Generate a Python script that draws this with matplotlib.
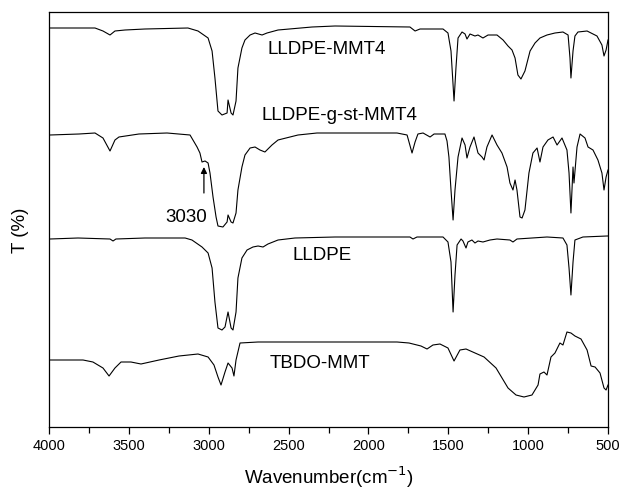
import numpy as np
import matplotlib.pyplot as plt
from matplotlib.ticker import MultipleLocator, NullLocator

plt.rcParams['font.family'] = ['Liberation Sans', 'DejaVu Sans']

# FTIR spectra, wavenumber (cm-1) vs transmittance (arbitrary offset units)
wn_mmt4 = [3994, 3712, 3662, 3618, 3587, 3524, 3399, 3130, 3067, 3004, 2979, 2961, 2942, 2917,
           2885, 2879, 2860, 2848, 2829, 2817, 2792, 2773, 2741, 2710, 2666, 2635, 2566, 2353,
           2209, 1740, 1708, 1677, 1533, 1502, 1483, 1470, 1464, 1452, 1439, 1414, 1395, 1383,
           1364, 1333, 1314, 1283, 1251, 1195, 1157, 1126, 1101, 1082, 1064, 1045, 1020, 988,
           957, 926, 882, 832, 782, 750, 738, 732, 719, 707, 688, 631, 569, 538, 525, 512, 500]
t_mmt4 = [399, 399, 396, 392, 396, 397, 398, 399, 396, 389, 376, 349, 316, 312,
          314, 327, 314, 312, 326, 359, 379, 387, 392, 394, 392, 394, 397, 400,
          401, 400, 396, 398, 398, 394, 376, 342, 326, 359, 389, 395, 393, 388,
          393, 391, 392, 389, 392, 392, 387, 381, 377, 369, 352, 348, 356, 376,
          384, 389, 392, 394, 395, 392, 369, 349, 376, 391, 395, 396, 391, 382, 371, 377, 387]

wn_gst = [3994, 3812, 3712, 3662, 3618, 3587, 3562, 3437, 3261, 3117, 3073, 3055, 3042, 3023,
          3004, 2992, 2973, 2954, 2942, 2911, 2885, 2879, 2860, 2848, 2829, 2817, 2792, 2773,
          2741, 2710, 2679, 2648, 2604, 2566, 2441, 2322, 2072, 1821, 1758, 1727, 1708, 1690,
          1658, 1614, 1589, 1521, 1508, 1496, 1483, 1470, 1458, 1439, 1414, 1395, 1383, 1364,
          1339, 1314, 1289, 1276, 1258, 1226, 1195, 1164, 1132, 1114, 1095, 1082, 1070, 1051,
          1038, 1020, 995, 970, 944, 926, 907, 876, 844, 819, 788, 757, 744, 732, 719, 713,
          694, 675, 644, 625, 594, 563, 538, 525, 512, 500]
t_gst = [292, 293, 294, 289, 276, 287, 290, 293, 294, 292, 280, 274, 265, 266,
         264, 254, 230, 210, 201, 200, 205, 212, 205, 204, 214, 237, 260, 272,
         279, 280, 277, 275, 282, 287, 292, 294, 294, 294, 292, 274, 285, 293,
         294, 290, 293, 293, 286, 270, 237, 207, 237, 270, 289, 282, 269, 280,
         290, 274, 270, 267, 280, 292, 282, 274, 260, 244, 237, 247, 237, 210,
         209, 217, 254, 274, 279, 265, 280, 287, 290, 282, 289, 277, 254, 214, 260, 244,
         280, 293, 289, 280, 277, 267, 254, 237, 250, 257]

wn_lldpe = [3994, 3818, 3618, 3599, 3581, 3399, 3148, 3105, 3042, 3004, 2979, 2961, 2942, 2917,
            2898, 2879, 2860, 2848, 2829, 2817, 2792, 2760, 2723, 2691, 2660, 2629, 2566, 2460,
            2209, 1740, 1721, 1696, 1533, 1502, 1483, 1470, 1458, 1445, 1420, 1408, 1389, 1377,
            1352, 1333, 1314, 1283, 1239, 1195, 1114, 1095, 1070, 882, 782, 757, 744, 732, 719,
            707, 657, 506, 500]
t_lldpe = [188, 189, 188, 186, 188, 189, 189, 187, 180, 174, 159, 125, 99, 97,
           100, 115, 99, 97, 115, 149, 169, 177, 180, 181, 180, 183, 187, 189,
           190, 190, 188, 190, 190, 185, 165, 115, 152, 182, 188, 186, 179, 185,
           187, 184, 186, 185, 187, 188, 187, 185, 188, 190, 189, 182, 159, 132, 165,
           187, 190, 191, 191]

wn_tbdo = [3994, 3787, 3725, 3662, 3624, 3587, 3549, 3487, 3424, 3311, 3186, 3067, 3004, 2967,
           2942, 2923, 2898, 2879, 2854, 2842, 2829, 2804, 2691, 2322, 1821, 1746, 1671, 1633,
           1596, 1552, 1502, 1464, 1427, 1389, 1276, 1201, 1126, 1076, 1026, 976, 938, 926,
           901, 882, 857, 832, 801, 782, 757, 732, 707, 669, 631, 606, 581, 550, 525, 512, 500]
t_tbdo = [67, 67, 65, 59, 51, 59, 65, 65, 63, 67, 71, 73, 70, 62,
          50, 42, 55, 64, 59, 51, 67, 84, 85, 85, 85, 84, 81, 78,
          82, 83, 79, 66, 77, 78, 70, 59, 39, 32, 30, 32, 42, 53,
          55, 52, 70, 74, 84, 82, 95, 94, 91, 88, 77, 61, 60, 54, 39, 37, 42]

fig = plt.figure(figsize=(6.2, 4.91), dpi=100)
ax = fig.add_axes([49 / 620, 64 / 491, 559 / 620, 415 / 491])

for wn, t in [(wn_mmt4, t_mmt4), (wn_gst, t_gst), (wn_lldpe, t_lldpe), (wn_tbdo, t_tbdo)]:
    ax.plot(wn, t, color='black', lw=0.8)

txt = dict(fontsize=13.5, ha='center', va='center')
ax.text(2260, 377, 'LLDPE-MMT4', **txt)
ax.text(2184, 311, 'LLDPE-g-st-MMT4', **txt)
ax.text(2291, 171, 'LLDPE', **txt)
ax.text(2303, 64, 'TBDO-MMT', **txt)
ax.text(3142, 210, '3030', **txt)
ax.annotate('', xy=(3030, 260), xytext=(3030, 234),
            arrowprops=dict(arrowstyle='-|>', color='black', lw=0.9,
                            mutation_scale=9, shrinkA=0, shrinkB=0))

ax.set_xlim(4000, 500)
ax.set_ylim(0, 415)
ax.xaxis.set_major_locator(MultipleLocator(500))
ax.xaxis.set_minor_locator(MultipleLocator(250))
ax.yaxis.set_major_locator(NullLocator())
ax.tick_params(axis='x', which='major', direction='out', length=5, width=0.9,
               labelsize=10.5, pad=4)
ax.tick_params(axis='x', which='minor', direction='out', length=4, width=0.9)
for s in ax.spines.values():
    s.set_linewidth(0.9)

ax.set_xlabel('Wavenumber(cm$^{-1}$)', fontsize=13.5, labelpad=8)
ax.set_ylabel('T (%)', fontsize=13.5)
ax.yaxis.set_label_coords(-0.035, 0.475)

fig.savefig('out.png', dpi=100)
